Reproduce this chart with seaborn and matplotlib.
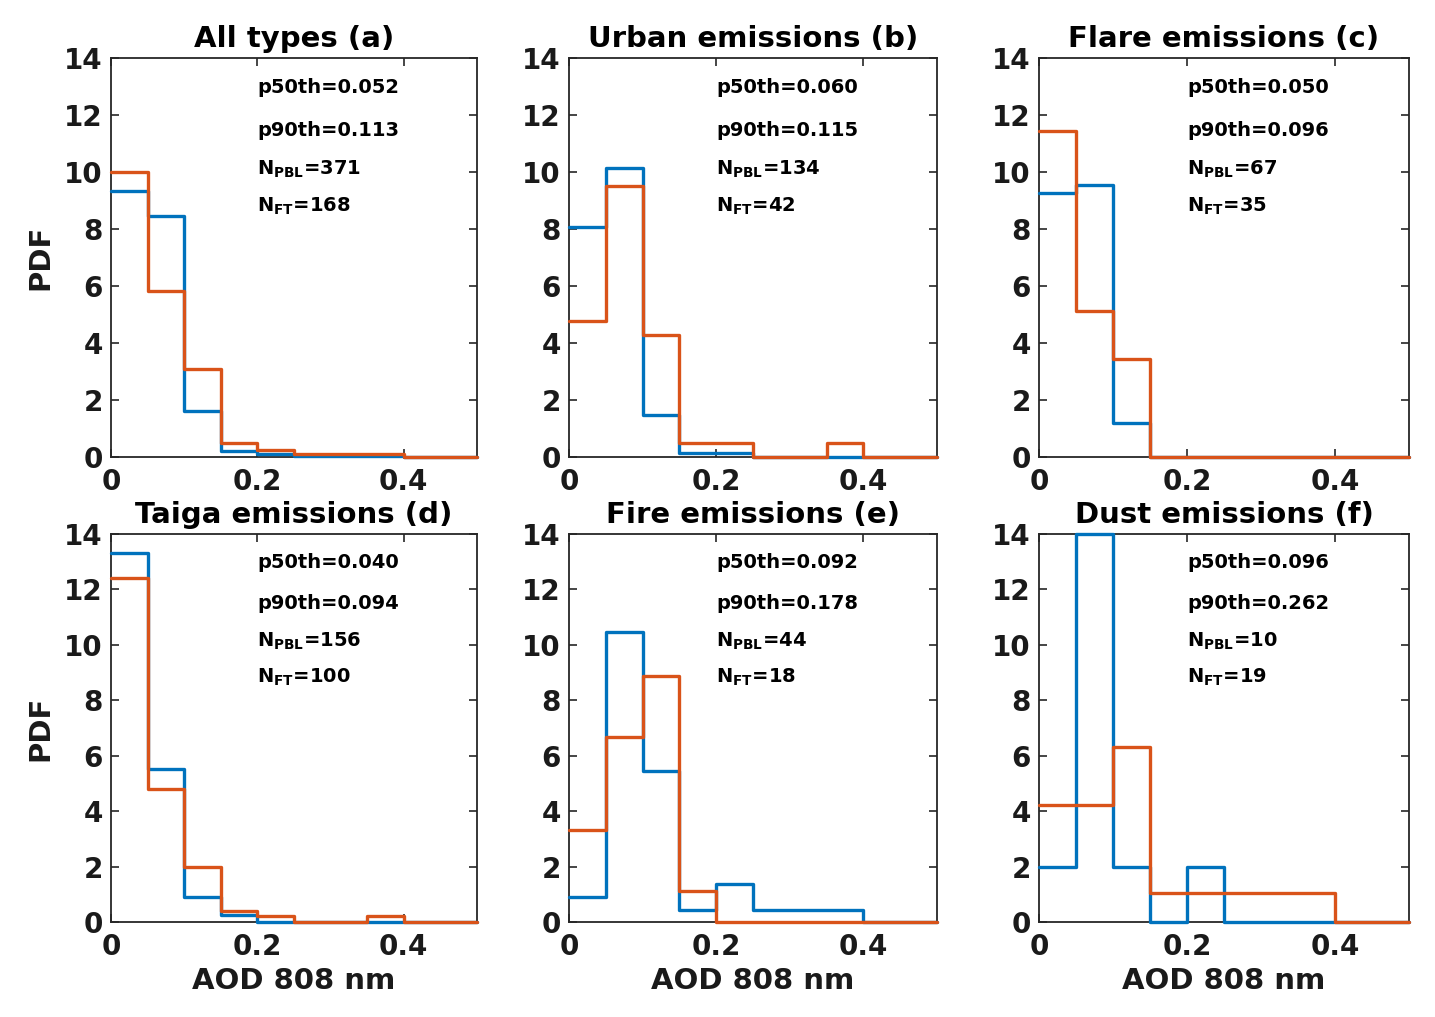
import numpy as np
import pandas as pd
import matplotlib
matplotlib.use("Agg")
import matplotlib.pyplot as plt
import seaborn as sns

# ---- data -------------------------------------------------------------
bin_edges = [0.0, 0.05, 0.10, 0.15, 0.20, 0.25, 0.30, 0.35, 0.40, 0.45, 0.50]

titles = ["All types (a)", "Urban emissions (b)", "Flare emissions (c)",
          "Taiga emissions (d)", "Fire emissions (e)", "Dust emissions (f)"]

# PDF values per bin (PBL = blue, FT = orange)
pbl_all    = [9.33, 8.46, 1.62, 0.22, 0.11, 0.05, 0.05, 0.05, 0.0, 0.0]
ft_all     = [10.0, 5.83, 3.10, 0.48, 0.24, 0.12, 0.12, 0.12, 0.0, 0.0]
pbl_urban  = [8.06, 10.15, 1.49, 0.15, 0.15, 0.0, 0.0, 0.0, 0.0, 0.0]
ft_urban   = [4.76, 9.52, 4.29, 0.48, 0.48, 0.0, 0.0, 0.48, 0.0, 0.0]
pbl_flare  = [9.25, 9.55, 1.19, 0.0, 0.0, 0.0, 0.0, 0.0, 0.0, 0.0]
ft_flare   = [11.43, 5.14, 3.43, 0.0, 0.0, 0.0, 0.0, 0.0, 0.0, 0.0]
pbl_taiga  = [13.33, 5.51, 0.90, 0.26, 0.0, 0.0, 0.0, 0.0, 0.0, 0.0]
ft_taiga   = [12.4, 4.8, 2.0, 0.4, 0.2, 0.0, 0.0, 0.2, 0.0, 0.0]
pbl_fire   = [0.91, 10.45, 5.45, 0.45, 1.36, 0.45, 0.45, 0.45, 0.0, 0.0]
ft_fire    = [3.33, 6.67, 8.89, 1.11, 0.0, 0.0, 0.0, 0.0, 0.0, 0.0]
pbl_dust   = [2.0, 14.0, 2.0, 0.0, 2.0, 0.0, 0.0, 0.0, 0.0, 0.0]
ft_dust    = [4.21, 4.21, 6.32, 1.05, 1.05, 1.05, 1.05, 1.05, 0.0, 0.0]

pbl_series = [pbl_all, pbl_urban, pbl_flare, pbl_taiga, pbl_fire, pbl_dust]
ft_series = [ft_all, ft_urban, ft_flare, ft_taiga, ft_fire, ft_dust]

p50 = ["0.052", "0.060", "0.050", "0.040", "0.092", "0.096"]
p90 = ["0.113", "0.115", "0.096", "0.094", "0.178", "0.262"]
n_pbl = [371, 134, 67, 156, 44, 10]
n_ft = [168, 42, 35, 100, 18, 19]

xticks = [0, 0.2, 0.4]
xticklabels = ["0", "0.2", "0.4"]
yticks = [0, 2, 4, 6, 8, 10, 12, 14]
yticklabels = ["0", "2", "4", "6", "8", "10", "12", "14"]

# ---- style ------------------------------------------------------------
sns.set_style("ticks")
plt.rcParams["font.family"] = ["DejaVu Sans"]
plt.rcParams["font.weight"] = "bold"
plt.rcParams["axes.titleweight"] = "bold"
plt.rcParams["axes.labelweight"] = "bold"
plt.rcParams["mathtext.default"] = "bf"

blue = "#0072BD"
orange = "#D95319"
spine_c = "#262626"

W, H = 1435, 1017
fig = plt.figure(figsize=(W / 100, H / 100), dpi=100)

col_left = [111, 569, 1039]
col_width = [366, 368, 370]
row_top = [58, 534]
row_bottom = [457, 922]

centers = [(bin_edges[i] + bin_edges[i + 1]) / 2 for i in range(len(bin_edges) - 1)]

for k in range(6):
    r, c = divmod(k, 3)
    l = col_left[c] / W
    b = 1 - row_bottom[r] / H
    w = col_width[c] / W
    h = (row_bottom[r] - row_top[r]) / H
    ax = fig.add_axes([l, b, w, h])

    df = pd.DataFrame({"x": centers, "pbl": pbl_series[k], "ft": ft_series[k]})
    sns.histplot(data=df, x="x", weights="pbl", bins=bin_edges, element="step",
                 fill=False, color=blue, linewidth=2.4, ax=ax, zorder=3, clip_on=False)
    sns.histplot(data=df, x="x", weights="ft", bins=bin_edges, element="step",
                 fill=False, color=orange, linewidth=2.4, ax=ax, zorder=4, clip_on=False)

    ax.set_xlim(0, 0.5)
    ax.set_ylim(0, 14)
    ax.set_xticks(xticks)
    ax.set_xticklabels(xticklabels)
    ax.set_yticks(yticks)
    ax.set_yticklabels(yticklabels)
    ax.tick_params(direction="in", top=True, right=True, length=6, width=1.2,
                   labelsize=20, colors=spine_c)
    ax.tick_params(axis="x", pad=8)
    ax.tick_params(axis="y", pad=6)
    for lab in ax.get_xticklabels() + ax.get_yticklabels():
        lab.set_fontweight("bold")
        lab.set_color("#1a1a1a")
    for sp in ax.spines.values():
        sp.set_visible(True)
        sp.set_color(spine_c)
        sp.set_linewidth(1.3)

    ax.set_title(titles[k], fontsize=21, fontweight="bold", pad=8, color="black")
    ax.set_xlabel("AOD 808 nm" if r == 1 else "", fontsize=21, fontweight="bold",
                  color="#1a1a1a", labelpad=4)
    ax.set_ylabel("PDF" if c == 0 else "", fontsize=21, fontweight="bold",
                  color="#1a1a1a", labelpad=7)

    tk = dict(fontsize=14, fontweight="bold", va="baseline", ha="left", color="black")
    ax.text(0.2, 12.78, f"p50th={p50[k]}", **tk)
    ax.text(0.2, 11.28, f"p90th={p90[k]}", **tk)
    ax.text(0.2, 9.92, r"$\mathbf{N_{PBL}}$" + f"={n_pbl[k]}", **tk)
    ax.text(0.2, 8.62, r"$\mathbf{N_{FT}}$" + f"={n_ft[k]}", **tk)

fig.savefig("out.png", dpi=100, facecolor="white")
